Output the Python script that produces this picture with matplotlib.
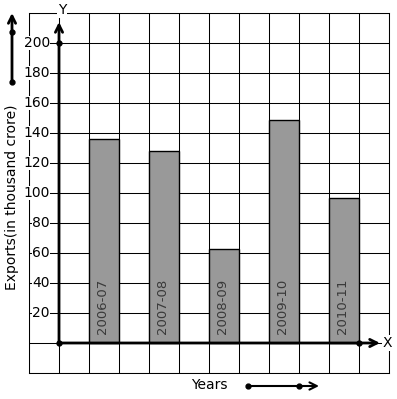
import matplotlib.pyplot as plt
import numpy as np

years = ['2006-07', '2007-08', '2008-09', '2009-10', '2010-11']
exports = [136, 128, 63, 149, 97]
bar_pos = [1.5, 3.5, 5.5, 7.5, 9.5]
y_ticks = [20, 40, 60, 80, 100, 120, 140, 160, 180, 200]

fig = plt.figure(figsize=(3.97, 3.99), dpi=100)
ax = fig.add_axes([29 / 397, 26 / 399, 360 / 397, 360 / 399])
ax.set_xlim(-1, 11)
ax.set_ylim(-20, 220)

# graph paper grid
ax.set_xticks(np.arange(-1, 12, 1))
ax.set_yticks(np.arange(-20, 240, 20))
ax.grid(True, color='black', lw=0.75)
ax.tick_params(length=0, labelbottom=False, labelleft=False)
for s in ax.spines.values():
    s.set_linewidth(0.75)
ax.set_axisbelow(True)

ax.bar(bar_pos, exports, width=1.0, color='#999999', edgecolor='black',
       linewidth=1.0, zorder=3)
for x, lab in zip(bar_pos, years):
    ax.text(x - 0.05, 6, lab, rotation=90, ha='center', va='bottom',
            fontsize=9.5, color='#3a3a3a', zorder=4)

for v in y_ticks:
    ax.text(-0.3, v, str(v), ha='right', va='center', fontsize=10,
            zorder=4, bbox=dict(facecolor='white', edgecolor='none', pad=0.3))

# axes with arrows
ax.annotate('', xy=(0, 214), xytext=(0, 0), zorder=5,
            arrowprops=dict(arrowstyle='->', lw=2.0, color='black',
                            shrinkA=0, shrinkB=0, mutation_scale=13))
ax.annotate('', xy=(10.7, 0), xytext=(0, 0), zorder=5,
            arrowprops=dict(arrowstyle='->', lw=2.0, color='black',
                            shrinkA=0, shrinkB=0, mutation_scale=13))
ax.plot([0, 0, 10], [0, 200, 0], 'o', color='black', ms=3.5, zorder=6)
ax.text(0.1, 222, 'Y', ha='center', va='center', fontsize=10, zorder=6,
        clip_on=False, bbox=dict(facecolor='white', edgecolor='none', pad=0.5))
ax.text(10.95, 0, 'X', ha='center', va='center', fontsize=10, zorder=6,
        clip_on=False, bbox=dict(facecolor='white', edgecolor='none', pad=0.5))

# axis titles and direction arrows outside the grid
fig.text(12 / 397, 1 - 197 / 399, 'Exports(in thousand crore)', rotation=90,
         ha='center', va='center', fontsize=10)
fig.text(209 / 397, 1 - 385 / 399, 'Years', ha='center', va='center',
         fontsize=10)
fig.add_artist(plt.Line2D([12 / 397], [1 - 32 / 399], marker='o', color='black', ms=3.5))
fig.add_artist(plt.Line2D([12 / 397], [1 - 82 / 399], marker='o', color='black', ms=3.5))
fig.add_artist(plt.Line2D([248 / 397], [1 - 386 / 399], marker='o', color='black', ms=3.5))
fig.add_artist(plt.Line2D([299 / 397], [1 - 386 / 399], marker='o', color='black', ms=3.5))
ax.annotate('', xy=(12, 399 - 13), xytext=(12, 399 - 82),
            xycoords='figure pixels', textcoords='figure pixels',
            arrowprops=dict(arrowstyle='->', lw=2.0, color='black',
                            shrinkA=0, shrinkB=0, mutation_scale=13))
ax.annotate('', xy=(319, 399 - 386), xytext=(248, 399 - 386),
            xycoords='figure pixels', textcoords='figure pixels',
            arrowprops=dict(arrowstyle='->', lw=1.5, color='black',
                            shrinkA=0, shrinkB=0, mutation_scale=13))

fig.savefig('out.png', dpi=100)
